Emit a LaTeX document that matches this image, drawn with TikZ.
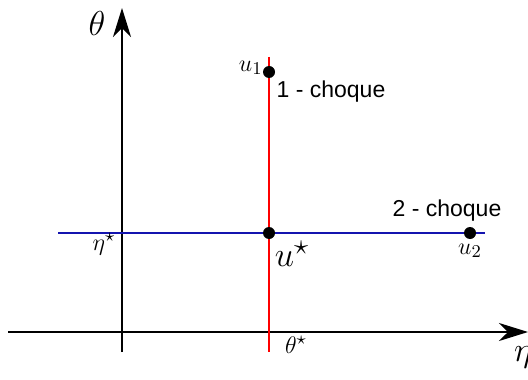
\documentclass[tikz,border=0pt]{standalone}
\usepackage{fontspec}
\newfontfamily\labelfont{Liberation Sans}
\usetikzlibrary{arrows.meta}
\definecolor{lineblue}{RGB}{20,20,175}
\begin{document}
\begin{tikzpicture}[x=0.5pt,y=-0.5pt,
  axis/.style={line width=1pt,-{Stealth[length=14.5pt,width=9pt,inset=4.5pt]}},
  dotnode/.style={circle,fill=black,inner sep=0pt,minimum size=6pt},
  txt/.style={font=\labelfont\fontsize{11.5}{13}\selectfont,inner sep=0pt},
  mlab/.style={inner sep=0pt,font=\fontsize{13}{15}\selectfont}]
\useasboundingbox (0,0) rectangle (528,379);
% axes
\coordinate (vb) at (122,352);
\coordinate (vt) at (122,8);
\coordinate (hl) at (8,332);
\coordinate (hr) at (528,332);
\draw[axis] (vb) -- (vt);
\draw[axis] (hl) -- (hr);
% lines
\coordinate (rt) at (269,57);
\coordinate (rb) at (269,352);
\coordinate (bl) at (58,233);
\coordinate (br) at (485,233);
\draw[red,line width=0.8pt] (rt) -- (rb);
\draw[lineblue,line width=0.8pt] (bl) -- (br);
% dots
\node[dotnode] (u1) at (269,72) {};
\node[dotnode] (us) at (269,233) {};
\node[dotnode] (u2) at (470,233) {};
% labels
\node[inner sep=0pt,font=\fontsize{19}{21}\selectfont] (th) at (97,24) {$\theta$};
\node[inner sep=0pt,font=\fontsize{19}{21}\selectfont] (eta) at (523,357) {$\eta$};
\node[mlab,anchor=east] (u1l) at (263,68) {$u_1$};
\node[txt] (c1) at (331,92) {1 - choque};
\node[txt] (c2) at (447,211) {2 - choque};
\node[inner sep=0pt,font=\fontsize{19}{21}\selectfont] (usl) at (292,254) {$u^\star$};
\node[mlab] (u2l) at (470,251) {$u_2$};
\node[mlab] (etas) at (104,244) {$\eta^\star$};
\node[mlab] (ths) at (296,345) {$\theta^\star$};
\end{tikzpicture}
\end{document}
